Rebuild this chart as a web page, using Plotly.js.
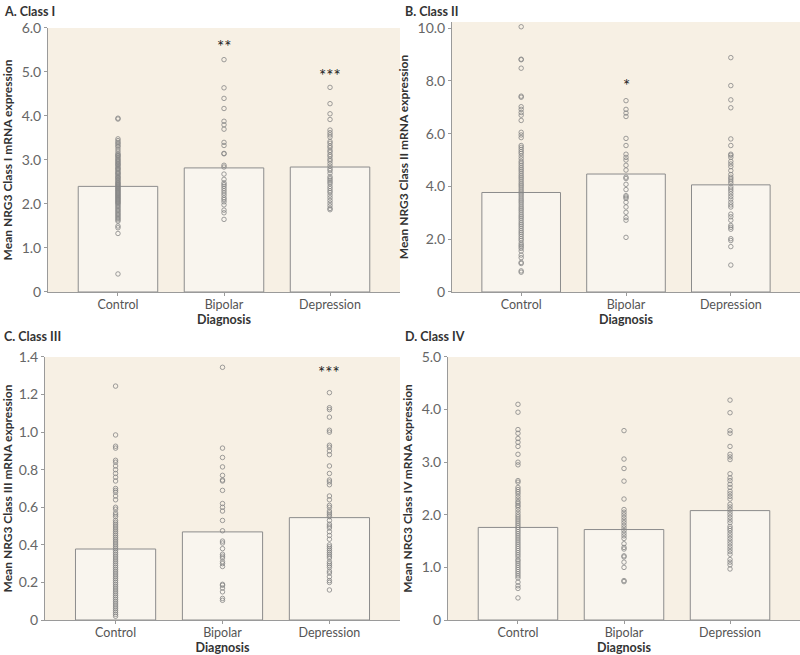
<!DOCTYPE html>
<html>
<head>
<meta charset="utf-8">
<script src="https://cdn.plot.ly/plotly-3.0.1.min.js"></script>
<style>
  body { margin: 0; background: #fff; }
  #chart { width: 800px; height: 655px; }
</style>
</head>
<body>
<div id="chart"></div>
<script>
const groups = ['Control', 'Bipolar', 'Depression'];

// Class I
const meanI = [2.40, 2.82, 2.84];
const ctrlI = [3.95, 3.93, 3.48, 3.44, 3.40, 3.37, 3.33, 3.30, 3.25, 3.20, 3.15, 3.12, 3.10, 3.08, 3.05, 3.02, 3.00, 2.97, 2.95, 2.92, 2.90, 2.88, 2.85, 2.82, 2.80, 2.78, 2.75, 2.72, 2.70, 2.68, 2.65, 2.62, 2.60, 2.58, 2.55, 2.53, 2.50, 2.48, 2.46, 2.44, 2.42, 2.40, 2.38, 2.36, 2.34, 2.32, 2.30, 2.28, 2.26, 2.24, 2.22, 2.20, 2.18, 2.16, 2.14, 2.12, 2.10, 2.08, 2.06, 2.04, 2.02, 2.00, 1.97, 1.94, 1.91, 1.88, 1.85, 1.82, 1.79, 1.76, 1.73, 1.70, 1.67, 1.64, 1.61, 1.50, 1.46, 1.33, 0.41];
const bipI = [5.28, 4.64, 4.40, 4.17, 3.88, 3.80, 3.70, 3.40, 3.33, 3.15, 3.14, 2.88, 2.84, 2.68, 2.56, 2.48, 2.44, 2.40, 2.35, 2.30, 2.25, 2.20, 2.14, 2.10, 2.05, 1.98, 1.86, 1.80, 1.65];
const depI = [4.65, 4.28, 4.05, 3.92, 3.68, 3.62, 3.57, 3.52, 3.42, 3.38, 3.32, 3.28, 3.22, 3.18, 3.12, 3.08, 3.02, 2.98, 2.92, 2.86, 2.80, 2.76, 2.70, 2.62, 2.58, 2.54, 2.50, 2.46, 2.40, 2.35, 2.30, 2.26, 2.20, 2.14, 2.08, 2.02, 1.96, 1.90, 1.87];

// Class II
const meanII = [3.77, 4.47, 4.06];
const ctrlII = [10.05, 8.82, 8.80, 8.48, 7.42, 7.38, 7.02, 6.92, 6.80, 6.70, 6.50, 6.05, 5.95, 5.85, 5.55, 5.48, 5.40, 5.32, 5.25, 5.15, 5.05, 4.95, 4.88, 4.80, 4.72, 4.65, 4.58, 4.50, 4.42, 4.35, 4.28, 4.20, 4.12, 4.05, 3.98, 3.90, 3.82, 3.75, 3.68, 3.60, 3.52, 3.45, 3.38, 3.30, 3.22, 3.15, 3.08, 3.00, 2.92, 2.85, 2.78, 2.70, 2.62, 2.55, 2.48, 2.40, 2.32, 2.25, 2.18, 2.10, 2.02, 1.95, 1.85, 1.78, 1.72, 1.65, 1.55, 1.40, 1.30, 1.12, 1.08, 0.80, 0.75];
const bipII = [7.25, 6.92, 6.78, 6.65, 5.82, 5.55, 5.22, 5.10, 5.00, 4.80, 4.62, 4.35, 4.30, 4.08, 3.88, 3.65, 3.60, 3.55, 3.40, 3.22, 3.02, 2.82, 2.72, 2.07];
const depII = [8.88, 7.82, 7.28, 6.98, 5.80, 5.55, 5.22, 5.18, 5.10, 4.95, 4.85, 4.75, 4.60, 4.45, 4.35, 4.28, 4.20, 4.12, 3.98, 3.90, 3.82, 3.72, 3.62, 3.52, 3.40, 3.30, 3.22, 2.95, 2.85, 2.72, 2.52, 2.45, 2.38, 2.02, 1.95, 1.72, 1.02];

// Class III
const meanIII = [0.378, 0.469, 0.545];
const ctrlIII = [1.245, 0.985, 0.925, 0.915, 0.85, 0.84, 0.82, 0.80, 0.78, 0.76, 0.74, 0.70, 0.69, 0.68, 0.66, 0.64, 0.60, 0.59, 0.57, 0.56, 0.55, 0.53, 0.52, 0.51, 0.50, 0.49, 0.48, 0.47, 0.46, 0.45, 0.44, 0.43, 0.42, 0.41, 0.40, 0.39, 0.38, 0.37, 0.36, 0.35, 0.34, 0.33, 0.32, 0.31, 0.30, 0.29, 0.28, 0.27, 0.26, 0.25, 0.24, 0.23, 0.22, 0.21, 0.20, 0.19, 0.18, 0.17, 0.16, 0.15, 0.14, 0.13, 0.12, 0.11, 0.10, 0.09, 0.08, 0.07, 0.06, 0.05, 0.04, 0.03, 0.02];
const bipIII = [1.345, 0.915, 0.865, 0.815, 0.77, 0.745, 0.74, 0.69, 0.62, 0.60, 0.58, 0.53, 0.475, 0.42, 0.41, 0.38, 0.35, 0.34, 0.33, 0.31, 0.30, 0.285, 0.19, 0.185, 0.17, 0.15, 0.115, 0.105];
const depIII = [1.21, 1.13, 1.12, 1.08, 1.01, 1.00, 0.93, 0.92, 0.90, 0.88, 0.82, 0.78, 0.745, 0.735, 0.72, 0.66, 0.64, 0.61, 0.60, 0.58, 0.57, 0.56, 0.55, 0.53, 0.51, 0.50, 0.49, 0.47, 0.45, 0.43, 0.40, 0.39, 0.38, 0.37, 0.36, 0.35, 0.34, 0.33, 0.31, 0.30, 0.29, 0.28, 0.26, 0.25, 0.23, 0.21, 0.20, 0.16];

// Class IV
const meanIV = [1.76, 1.72, 2.08];
const ctrlIV = [4.10, 3.95, 3.62, 3.55, 3.45, 3.38, 3.30, 3.15, 3.00, 2.95, 2.65, 2.62, 2.52, 2.48, 2.44, 2.40, 2.35, 2.30, 2.25, 2.22, 2.18, 2.15, 2.10, 2.05, 2.00, 1.96, 1.92, 1.88, 1.84, 1.80, 1.76, 1.72, 1.68, 1.64, 1.60, 1.56, 1.52, 1.48, 1.44, 1.40, 1.36, 1.32, 1.28, 1.24, 1.20, 1.15, 1.12, 1.08, 1.04, 1.00, 0.96, 0.92, 0.88, 0.84, 0.80, 0.72, 0.65, 0.60, 0.42];
const bipIV = [3.60, 3.06, 2.88, 2.64, 2.30, 2.10, 2.05, 2.00, 1.95, 1.90, 1.85, 1.80, 1.75, 1.70, 1.65, 1.60, 1.55, 1.45, 1.38, 1.35, 1.22, 1.20, 1.10, 1.00, 0.75, 0.73];
const depIV = [4.18, 3.94, 3.60, 3.55, 3.30, 3.15, 3.10, 3.05, 2.78, 2.70, 2.65, 2.58, 2.52, 2.45, 2.40, 2.35, 2.30, 2.20, 2.15, 2.10, 2.05, 2.00, 1.95, 1.90, 1.85, 1.78, 1.74, 1.70, 1.65, 1.60, 1.55, 1.50, 1.45, 1.40, 1.35, 1.30, 1.25, 1.15, 1.10, 1.05, 0.97];

// significance stars: [panel, group, y, text]
const stars = [
  [0, 'Bipolar', 5.57, '**'],
  [0, 'Depression', 4.93, '***'],
  [1, 'Bipolar', 7.83, '*'],
  [2, 'Depression', 1.32, '***']
];

const panels = [
  { label: 'A. Class I', yTitle: 'Mean NRG3 Class I mRNA expression', means: meanI, pts: [ctrlI, bipI, depI],
    yMax: 6.0, step: 1, xDom: [0.06, 0.5], yDom: [0.5542, 0.9573], lx: 0.003, ly: 0.983 },
  { label: 'B. Class II', yTitle: 'Mean NRG3 Class II mRNA expression', means: meanII, pts: [ctrlII, bipII, depII],
    yMax: 10.23, step: 2, xDom: [0.565, 1.0], yDom: [0.5542, 0.9664], lx: 0.504, ly: 0.983 },
  { label: 'C. Class III', yTitle: 'Mean NRG3 Class III mRNA expression', means: meanIII, pts: [ctrlIII, bipIII, depIII],
    yMax: 1.4, step: 0.2, xDom: [0.05625, 0.5], yDom: [0.0534, 0.455], lx: 0.003, ly: 0.4855 },
  { label: 'D. Class IV', yTitle: 'Mean NRG3 Class IV mRNA expression', means: meanIV, pts: [ctrlIV, bipIV, depIV],
    yMax: 5.0, step: 1, xDom: [0.56, 1.0], yDom: [0.0534, 0.455], lx: 0.504, ly: 0.4855 }
];

const FONT = 'Lato, "Open Sans", sans-serif';
const AXIS_COL = '#9a9a9a';

const data = [];
const layout = {
  width: 800,
  height: 655,
  margin: { l: 0, r: 0, t: 0, b: 0 },
  paper_bgcolor: '#ffffff',
  plot_bgcolor: '#f7f0e4',
  showlegend: false,
  font: { family: FONT, color: '#555' },
  annotations: []
};

panels.forEach((p, i) => {
  const n = i === 0 ? '' : String(i + 1);
  const xa = 'x' + n, ya = 'y' + n;

  data.push({
    type: 'bar',
    x: groups,
    y: p.means,
    width: 0.75,
    xaxis: xa, yaxis: ya,
    marker: { color: '#f9f5ee', line: { color: '#8c8c8c', width: 1 } },
    hoverinfo: 'skip'
  });

  p.pts.forEach((vals, g) => {
    data.push({
      type: 'scatter',
      mode: 'markers',
      x: vals.map(() => groups[g]),
      y: vals,
      xaxis: xa, yaxis: ya,
      marker: { symbol: 'circle-open', size: 4.5, color: '#858585', line: { width: 0.8 } }
    });
  });

  const tv = [], tt = [];
  for (let v = 0; v <= p.yMax + 1e-9; v += p.step) {
    const r = Math.round(v * 10) / 10;
    tv.push(r);
    tt.push(r === 0 ? '0' : r.toFixed(1));
  }

  layout['xaxis' + n] = {
    domain: p.xDom,
    anchor: ya,
    type: 'category',
    range: [-0.66, 2.66],
    showline: true, linecolor: AXIS_COL, linewidth: 1,
    ticks: 'outside', ticklen: 3, tickcolor: AXIS_COL,
    ticklabelstandoff: -2,
    showgrid: false, zeroline: false,
    tickfont: { family: FONT, size: 12.5, color: '#555' },
    title: { text: 'Diagnosis', standoff: 4, font: { family: FONT, size: 12.5, color: '#333', weight: 'bold' } },
    fixedrange: true
  };
  layout['yaxis' + n] = {
    domain: p.yDom,
    anchor: xa,
    range: [0, p.yMax],
    tickvals: tv, ticktext: tt,
    showline: true, linecolor: AXIS_COL, linewidth: 1,
    ticks: 'outside', ticklen: 3, tickcolor: AXIS_COL,
    showgrid: false, zeroline: false,
    tickfont: { family: FONT, size: 14, color: '#666' },
    title: { text: p.yTitle, standoff: 6, font: { family: FONT, size: 12, color: '#333', weight: 'bold' } },
    fixedrange: true
  };

  layout.annotations.push({
    xref: 'paper', yref: 'paper', x: p.lx, y: p.ly,
    xanchor: 'left', yanchor: 'middle', showarrow: false,
    text: p.label,
    font: { family: FONT, size: 12.5, color: '#333', weight: 'bold' }
  });
});

stars.forEach(([pi, g, yv, txt]) => {
  const n = pi === 0 ? '' : String(pi + 1);
  layout.annotations.push({
    xref: 'x' + n, yref: 'y' + n, x: g, y: yv,
    showarrow: false, text: txt,
    font: { family: FONT, size: 17, color: '#222' }
  });
});

Plotly.newPlot('chart', data, layout, { displayModeBar: false, staticPlot: true });
</script>
</body>
</html>
